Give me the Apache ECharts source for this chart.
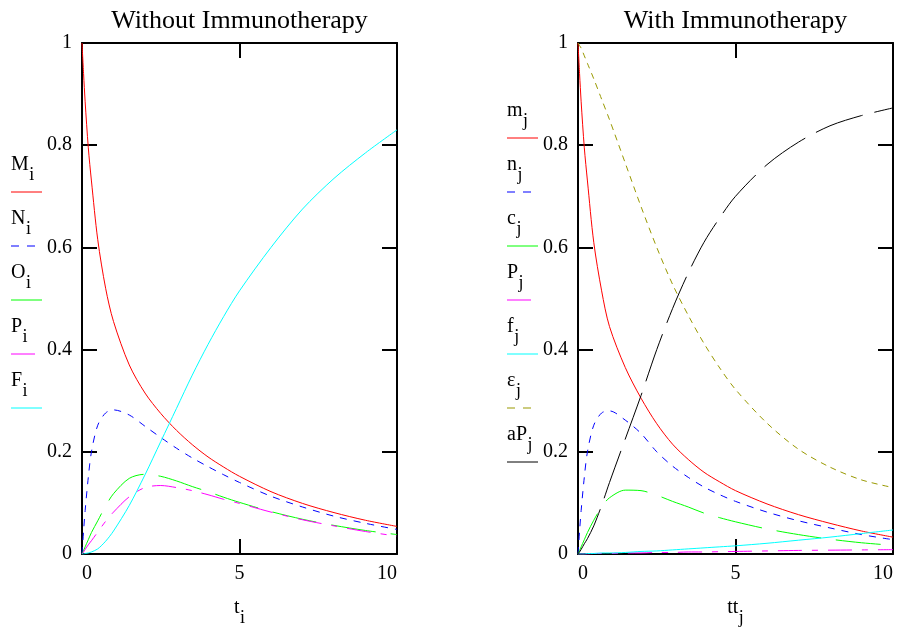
<!DOCTYPE html>
<html><head><meta charset="utf-8">
<script src="https://cdn.jsdelivr.net/npm/echarts@6/dist/echarts.min.js"></script>
<style>html,body{margin:0;padding:0;background:#fff}#c{width:897px;height:627px}</style>
</head><body><div id="c"></div>
<script>
// time samples (shared by all series)
const T = [0, 0.05, 0.1, 0.2, 0.3, 0.5, 0.75, 1, 1.5, 2, 2.5, 3, 3.5, 4, 4.5, 5, 6, 7, 8, 9, 10];

// Without Immunotherapy
const M_i = [1, 0.94, 0.885, 0.795, 0.73, 0.615, 0.52, 0.455, 0.37, 0.315, 0.275, 0.242, 0.214, 0.19, 0.17, 0.152, 0.122, 0.099, 0.081, 0.066, 0.054];
const N_i = [0, 0.045, 0.085, 0.15, 0.2, 0.252, 0.276, 0.282, 0.272, 0.25, 0.228, 0.207, 0.188, 0.171, 0.155, 0.14, 0.113, 0.092, 0.074, 0.06, 0.048];
const O_i = [0, 0.007, 0.014, 0.028, 0.042, 0.065, 0.094, 0.118, 0.148, 0.156, 0.152, 0.143, 0.132, 0.122, 0.111, 0.101, 0.083, 0.068, 0.056, 0.046, 0.038];
const P_i = [0, 0.004, 0.009, 0.018, 0.026, 0.043, 0.064, 0.082, 0.112, 0.13, 0.134, 0.13, 0.124, 0.116, 0.107, 0.099, 0.082, 0.067, 0.055, 0.044, 0.035];
const F_i = [0, 0, 0.001, 0.002, 0.004, 0.01, 0.025, 0.045, 0.095, 0.155, 0.22, 0.285, 0.35, 0.41, 0.465, 0.515, 0.6, 0.675, 0.735, 0.785, 0.83];

// With Immunotherapy
const m_j = [1, 0.94, 0.885, 0.795, 0.73, 0.61, 0.515, 0.445, 0.365, 0.305, 0.255, 0.215, 0.185, 0.16, 0.141, 0.124, 0.098, 0.077, 0.06, 0.045, 0.033];
const n_j = [0, 0.045, 0.085, 0.15, 0.2, 0.252, 0.276, 0.28, 0.262, 0.236, 0.2, 0.172, 0.15, 0.131, 0.116, 0.103, 0.082, 0.065, 0.051, 0.038, 0.028];
const o_j = [0, 0.007, 0.014, 0.028, 0.042, 0.066, 0.092, 0.11, 0.125, 0.124, 0.115, 0.103, 0.092, 0.08, 0.071, 0.063, 0.049, 0.038, 0.029, 0.022, 0.017];
const p_j = [0, 0, 0, 0, 0, 0.001, 0.001, 0.001, 0.002, 0.002, 0.003, 0.003, 0.004, 0.004, 0.0045, 0.005, 0.006, 0.007, 0.0075, 0.008, 0.0085];
const f_j = [0, 0, 0, 0, 0.001, 0.001, 0.002, 0.002, 0.003, 0.005, 0.006, 0.008, 0.01, 0.012, 0.014, 0.016, 0.021, 0.027, 0.033, 0.04, 0.047];
const a_j = [1, 0.995, 0.99, 0.975, 0.96, 0.93, 0.89, 0.85, 0.765, 0.68, 0.6, 0.528, 0.467, 0.412, 0.364, 0.322, 0.256, 0.205, 0.17, 0.145, 0.13];
const ap_j = [0, 0.004, 0.009, 0.02, 0.03, 0.055, 0.095, 0.14, 0.225, 0.31, 0.4, 0.48, 0.55, 0.61, 0.658, 0.7, 0.762, 0.806, 0.838, 0.858, 0.873];

const titles = ['Without Immunotherapy', 'With Immunotherapy'];
const leftLegend = [['M', 'i'], ['N', 'i'], ['O', 'i'], ['P', 'i'], ['F', 'i']];
const rightLegend = [['m', 'j'], ['n', 'j'], ['c', 'j'], ['P', 'j'], ['f', 'j'], ['ε', 'j'], ['aP', 'j']];
const axisNames = [['t', 'i'], ['tt', 'j']];

const FONT = 'Liberation Serif';
const C = {red:'#ff0000', blue:'#0000ff', green:'#00ff00', mag:'#ff00ff', cyan:'#00ffff', olive:'#999900', black:'#000000'};
const DASH = {solid:'solid', short:[7,7], long:[45,15], dadot:[24,10,6,10], olive:[6,5], black:[50,12]};

const chart = echarts.init(document.getElementById('c'));
const ctx = document.createElement('canvas').getContext('2d');
function tw(s, size){ ctx.font = size + 'px "' + FONT + '"'; return ctx.measureText(s).width; }

const grids = [{left:82, top:43, width:315, height:511}, {left:578, top:43, width:315, height:511}];
const axLine = {show:true, onZero:false, lineStyle:{color:'#000', width:2}};
const axTick = {show:true, inside:true, length:15, lineStyle:{color:'#000', width:2}};
const xAxes = [], yAxes = [];
grids.forEach((g, gi) => {
  xAxes.push({gridIndex:gi, type:'value', min:0, max:10, interval:5, position:'bottom', axisLine:axLine, axisTick:axTick, splitLine:{show:false},
    axisLabel:{fontFamily:FONT, fontSize:20, color:'#000', margin:10, alignMinLabel:'left', alignMaxLabel:'right'}});
  xAxes.push({gridIndex:gi, type:'value', min:0, max:10, interval:5, position:'top', axisLine:axLine, axisTick:axTick, splitLine:{show:false}, axisLabel:{show:false}});
  yAxes.push({gridIndex:gi, type:'value', min:0, max:1, interval:0.2, position:'left', axisLine:axLine, axisTick:axTick, splitLine:{show:false},
    axisLabel:{fontFamily:FONT, fontSize:20, color:'#000', margin:10}});
  yAxes.push({gridIndex:gi, type:'value', min:0, max:1, interval:0.2, position:'right', axisLine:axLine, axisTick:axTick, splitLine:{show:false}, axisLabel:{show:false}});
});

function ser(name, arr, color, dash, gi){
  return {name, type:'line', xAxisIndex:gi*2, yAxisIndex:gi*2, data:T.map((t,i)=>[t, arr[i]]),
    showSymbol:false, smooth:0.3, lineStyle:{color, width:1, type:dash}, z:3, silent:true};
}
const series = [
  ser('M', M_i, C.red, DASH.solid, 0), ser('N', N_i, C.blue, DASH.short, 0), ser('O', O_i, C.green, DASH.long, 0),
  ser('P', P_i, C.mag, DASH.dadot, 0), ser('F', F_i, C.cyan, DASH.solid, 0),
  ser('m', m_j, C.red, DASH.solid, 1), ser('n', n_j, C.blue, DASH.short, 1), ser('o', o_j, C.green, DASH.long, 1),
  ser('p', p_j, C.mag, DASH.dadot, 1), ser('f', f_j, C.cyan, DASH.solid, 1), ser('a', a_j, C.olive, DASH.olive, 1),
  ser('ap', ap_j, C.black, DASH.black, 1)
];

const graphic = [];
function text(s, x, y, size, align){
  graphic.push({type:'text', x, y, style:{text:s, fontFamily:FONT, fontSize:size, fill:'#000', align:align||'left', verticalAlign:'middle'}});
}
function subLabel(main, sub, x, y){
  text(main, x, y, 20);
  text(sub, x + tw(main, 20) + 0.5, y + 10, 18);
}
function seg(x1, x2, y, color, dash){
  graphic.push({type:'line', shape:{x1, y1:y, x2, y2:y}, style:{stroke:color, lineWidth:1, lineDash: dash === 'solid' ? null : dash}});
}
text(titles[0], 239.5, 21, 26, 'center');
text(titles[1], 735.5, 21, 26, 'center');
subLabel(axisNames[0][0], axisNames[0][1], 239.5 - tw(axisNames[0][0] + axisNames[0][1], 20) / 2, 608);
subLabel(axisNames[1][0], axisNames[1][1], 735.5 - tw(axisNames[1][0] + axisNames[1][1], 20) / 2, 608);

const lStyles = [[C.red, 'solid', 42], [C.blue, [8,8], 35], [C.green, 'solid', 42], [C.mag, 'solid', 35], [C.cyan, 'solid', 42]];
leftLegend.forEach((l, i) => {
  const ly = 192 + i * 54;
  subLabel(l[0], l[1], 11, ly - 27);
  seg(11, lStyles[i][2], ly, lStyles[i][0], lStyles[i][1]);
});
const rStyles = [[C.red, 'solid', 538], [C.blue, [8,8], 531], [C.green, 'solid', 538], [C.mag, 'solid', 531], [C.cyan, 'solid', 538], [C.olive, [8,8], 531], [C.black, 'solid', 538]];
rightLegend.forEach((l, i) => {
  const ly = 138 + i * 54;
  subLabel(l[0], l[1], 507, ly - 27);
  seg(507, rStyles[i][2], ly, rStyles[i][0], rStyles[i][1]);
});

chart.setOption({animation:false, backgroundColor:'#fff', grid:grids, xAxis:xAxes, yAxis:yAxes, series, graphic});
</script></body></html>
